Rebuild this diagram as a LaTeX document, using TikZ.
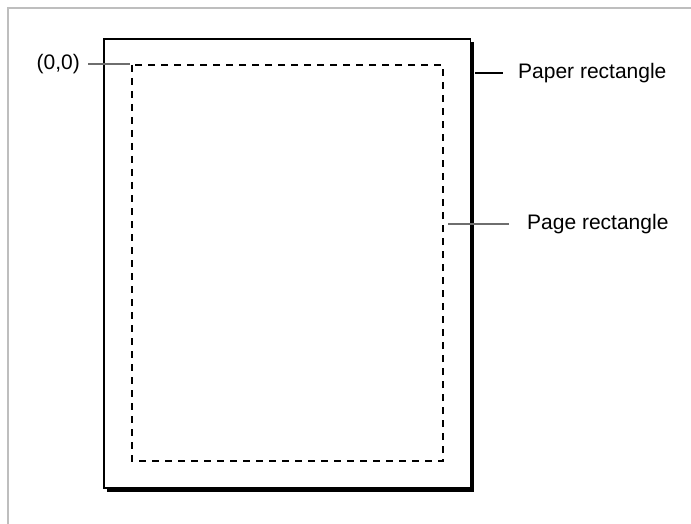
\documentclass[tikz,border=0pt]{standalone}
\usepackage{fontspec}
\setmainfont{Liberation Sans}
\begin{document}
\begin{tikzpicture}[x=1pt,y=-1pt,
  lbl/.style={inner sep=0pt,font=\fontsize{21}{25}\selectfont},
  frameline/.style={draw={rgb,255:red,190;green,190;blue,190},line width=2pt},
  leader/.style={line width=1.1pt},
  grayleader/.style={leader,draw={rgb,255:red,110;green,110;blue,110}},
  dashrect/.style={line width=1.3pt,dash pattern=on 7pt off 6pt}]
\useasboundingbox (0,0) rectangle (691,524);
% outer frame (top and left only)
\draw[frameline] (8,524) -- (8,8) -- (691,8);
% paper shadow
\draw[line width=3pt,black] (472.5,42) -- (472.5,490.5) -- (107,490.5);
% paper rectangle
\draw[line width=1.4pt] (104,39) rectangle (470.5,488);
% page rectangle
\draw[dashrect] (132,65) rectangle (443,461);
% labels
\node[lbl,anchor=east] (origin) at (80,64) {(0,0)};
\node[lbl,anchor=west] (paper) at (518,73) {Paper rectangle};
\node[lbl,anchor=west] (page) at (527,224) {Page rectangle};
% leader end points
\coordinate (oS) at (88,64);
\coordinate (oE) at (130,64);
\coordinate (paS) at (475,73);
\coordinate (paE) at (503,73);
\coordinate (pgS) at (448,224);
\coordinate (pgE) at (509,224);
\draw[grayleader] (oS) -- (oE);
\draw[leader] (paS) -- (paE);
\draw[grayleader] (pgS) -- (pgE);
\end{tikzpicture}
\end{document}
